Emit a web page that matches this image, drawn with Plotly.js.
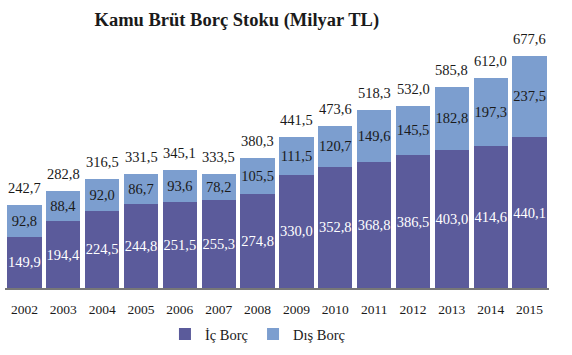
<!DOCTYPE html>
<html><head><meta charset="utf-8">
<script src="https://cdn.plot.ly/plotly-3.0.1.min.js"></script>
<style>body{margin:0;background:#fff}#c{width:572px;height:355px}</style>
</head><body><div id="c"></div>
<script>
var years = ['2002','2003','2004','2005','2006','2007','2008','2009','2010','2011','2012','2013','2014','2015'];
var icBorc = [149.9,194.4,224.5,244.8,251.5,255.3,274.8,330.0,352.8,368.8,386.5,403.0,414.6,440.1];
var disBorc = [92.8,88.4,92.0,86.7,93.6,78.2,105.5,111.5,120.7,149.6,145.5,182.8,197.3,237.5];
var totals = [242.7,282.8,316.5,331.5,345.1,333.5,380.3,441.5,473.6,518.3,532.0,585.8,612.0,677.6];

var font = 'Liberation Serif, DejaVu Serif, serif';
var traces = [
  {type:'bar', name:'İç Borç', x:years, y:icBorc, marker:{color:'#5b5b9b'},
   texttemplate:'%{y:.1f}', textposition:'inside', insidetextanchor:'middle', textangle:0,
   constraintext:'none', textfont:{color:'#ffffff', size:14.5, family:font}, hoverinfo:'none'},
  {type:'bar', name:'Dış Borç', x:years, y:disBorc, marker:{color:'#7c9ecf'},
   texttemplate:'%{y:.1f}', textposition:'inside', insidetextanchor:'middle', textangle:0,
   constraintext:'none', textfont:{color:'#1a1a1a', size:14.5, family:font}, hoverinfo:'none'}
];
var annotations = years.map(function(yr,i){
  return {x:i, xref:'x', y:totals[i], yref:'y', text:totals[i].toFixed(1).replace('.',','), showarrow:false,
    yanchor:'bottom', yshift:7, font:{family:font, size:14.5, color:'#1a1a1a'}};
});
var layout = {
  width:572, height:355, barmode:'stack', bargap:0.12, separators:',.',
  margin:{l:5, r:23, t:40, b:62},
  paper_bgcolor:'#fff', plot_bgcolor:'#fff',
  title:{text:'<b>Kamu Brüt Borç Stoku (Milyar TL)</b>', x:0.414, xanchor:'center', y:0.944, yanchor:'middle',
    font:{family:font, size:18.5, color:'#1a1a1a'}},
  xaxis:{type:'category', range:[-0.5,13.5], showline:true, linecolor:'#777', linewidth:2, ticks:'', showgrid:false,
    ticklabelstandoff:8, tickfont:{family:font, size:13.5, color:'#1a1a1a'}},
  yaxis:{visible:false, range:[0,723]},
  showlegend:true,
  legend:{orientation:'h', x:0.465, xanchor:'center', y:-0.186, yanchor:'middle',
    font:{family:font, size:14.5, color:'#1a1a1a'}, traceorder:'normal'},
  annotations:annotations
};
Plotly.newPlot('c', traces, layout, {staticPlot:true});
</script></body></html>
